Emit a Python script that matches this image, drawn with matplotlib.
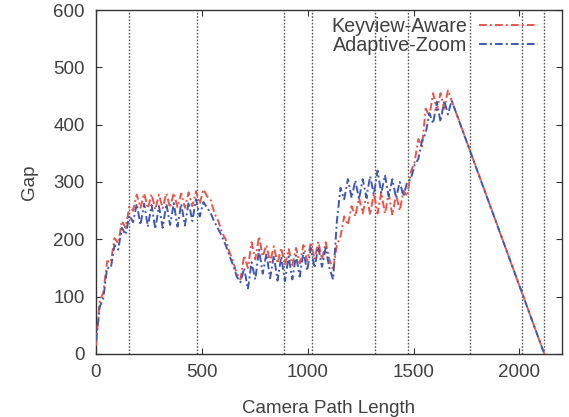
import matplotlib
matplotlib.use("Agg")
import matplotlib.pyplot as plt

# ---- data ----
x_path = [0, 17.5, 35, 52.5, 70, 87.5, 105, 122.5, 140, 157.5,
          175, 192.5, 210, 227.5, 245, 262.5, 280, 297.5, 315, 332.5,
          350, 367.5, 385, 402.5, 420, 437.5, 455, 472.5, 490, 507.5,
          525, 542.5, 560, 577.5, 595, 612.5, 630, 647.5, 665, 682.5,
          700, 717.5, 735, 752.5, 770, 787.5, 805, 822.5, 840, 857.5,
          875, 892.5, 910, 927.5, 945, 962.5, 980, 997.5, 1015, 1032.5,
          1050, 1067.5, 1085, 1102.5, 1120, 1137.5, 1155, 1172.5, 1190, 1207.5,
          1225, 1242.5, 1260, 1277.5, 1295, 1312.5, 1330, 1347.5, 1365, 1382.5,
          1400, 1417.5, 1435, 1452.5, 1470, 1487.5, 1505, 1522.5, 1540, 1557.5,
          1575, 1592.5, 1610, 1627.5, 1645, 1662.5]

keyview_aware = [15, 92, 108, 162, 160, 202, 193, 232, 220, 257,
                 250, 278, 255, 280, 254, 279, 252, 278, 254, 280,
                 255, 281, 256, 280, 255, 282, 258, 284, 262, 287,
                 275, 268, 245, 232, 212, 200, 178, 162, 140, 130,
                 172, 150, 195, 165, 205, 170, 190, 160, 188, 158,
                 185, 155, 183, 155, 185, 158, 190, 162, 195, 165,
                 196, 165, 195, 165, 146, 190, 205, 240, 225, 258,
                 240, 272, 245, 278, 243, 280, 245, 282, 245, 280,
                 242, 278, 250, 285, 275, 318, 335, 375, 362, 428,
                 415, 455, 425, 455, 428, 460]

adaptive_zoom = [22, 82, 98, 150, 150, 190, 182, 220, 208, 242,
                 230, 262, 225, 262, 222, 260, 218, 258, 220, 262,
                 225, 263, 222, 262, 224, 265, 232, 270, 240, 265,
                 255, 245, 230, 218, 205, 190, 172, 155, 135, 125,
                 150, 113, 160, 130, 182, 140, 175, 132, 172, 128,
                 170, 127, 170, 130, 172, 135, 178, 145, 185, 150,
                 187, 152, 185, 150, 130, 230, 290, 270, 305, 272,
                 303, 270, 305, 273, 310, 278, 320, 280, 312, 275,
                 305, 272, 300, 275, 300, 305, 330, 340, 372, 385,
                 420, 402, 440, 405, 442, 418]

# final straight descent
ka_tail_x = [2118]
ka_tail_y = [0]
az_tail_x = [1680, 2118]
az_tail_y = [442, 0]

keyview_positions = [157, 475, 888, 1022, 1316, 1476, 1767, 2013, 2118]

x_ticks = [0, 500, 1000, 1500, 2000]
y_ticks = [0, 100, 200, 300, 400, 500, 600]

# ---- style ----
TXT = "#404040"
plt.rcParams['font.family'] = ['Liberation Sans', 'DejaVu Sans']
plt.rcParams['font.size'] = 13.5

fig = plt.figure(figsize=(5.69, 4.17), dpi=100)
ax = fig.add_axes([0.1687, 0.1511, 0.8185, 0.8249])

for xv in keyview_positions:
    ax.axvline(xv, color="#555555", linestyle=(0, (1.2, 1.2)), linewidth=1.0, zorder=1)

red = "#e8564a"
blue = "#4058b2"
ls = (0, (4, 1.6, 1, 1.6))
ax.plot(x_path + ka_tail_x, keyview_aware + ka_tail_y, color=red, linestyle=ls,
        linewidth=1.4, label="Keyview-Aware", zorder=3)
ax.plot(x_path + az_tail_x, adaptive_zoom + az_tail_y, color=blue, linestyle=ls,
        linewidth=1.4, label="Adaptive-Zoom", zorder=3)

ax.set_xlim(0, 2200)
ax.set_ylim(0, 600)
ax.set_xticks(x_ticks)
ax.set_yticks(y_ticks)
ax.tick_params(direction="in", length=4, width=0.8, top=True, right=True,
               colors="#333333", labelcolor=TXT)
ax.tick_params(axis="x", pad=7)
ax.tick_params(axis="y", pad=8)
for s in ax.spines.values():
    s.set_color("#333333")
    s.set_linewidth(1.0)

ax.set_xlabel("Camera Path Length", color=TXT, labelpad=14)
ax.set_ylabel("Gap", color=TXT, labelpad=11)

leg = ax.legend(loc="upper right", bbox_to_anchor=(538 / 569, (417 - 17) / 417),
                bbox_transform=fig.transFigure, frameon=False, markerfirst=False,
                handlelength=3.0, handletextpad=0.6, labelspacing=0.0,
                borderpad=0, borderaxespad=0, fontsize=14.2)
for t in leg.get_texts():
    t.set_color(TXT)

fig.savefig("out.png", dpi=100)
